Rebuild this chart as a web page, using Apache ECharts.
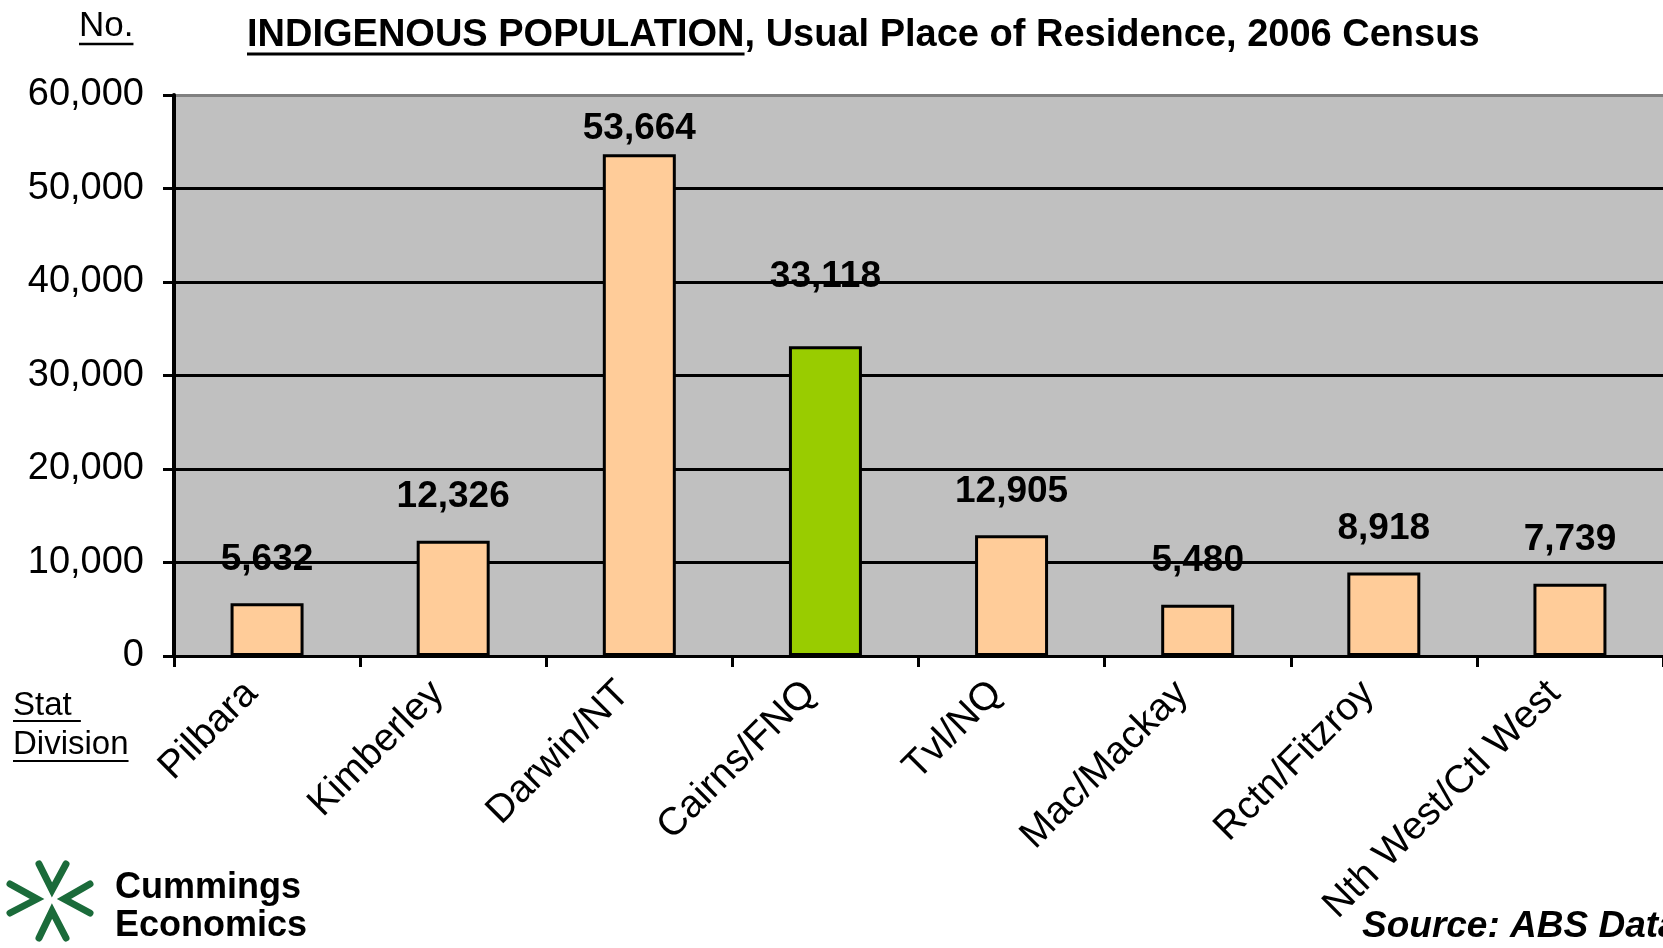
<!DOCTYPE html>
<html>
<head>
<meta charset="utf-8">
<script src="https://cdn.jsdelivr.net/npm/echarts@6/dist/echarts.min.js"></script>
<style>
  html, body { margin: 0; padding: 0; background: #fff; }
  #chart { width: 1663px; height: 948px; }
</style>
</head>
<body>
<div id="chart"></div>
<script>
// data
const categories = ['Pilbara', 'Kimberley', 'Darwin/NT', 'Cairns/FNQ', 'Tvl/NQ', 'Mac/Mackay', 'Rctn/Fitzroy', 'Nth West/Ctl West']
const population = [5632, 12326, 53664, 33118, 12905, 5480, 8918, 7739]
const highlighted = 'Cairns/FNQ'
const yMin = 0
const yMax = 60000
const yStep = 10000

const FONT = '"Liberation Sans", Arial, sans-serif'
const BAR = '#FFCC99'
const BAR_HI = '#99CC00'
const GREEN = '#1B6B3A'

// labels that sit further / closer to the bar than the rest
const labelGap = { 'Darwin/NT': 7, 'Cairns/FNQ': 51 }

const ctx = document.createElement('canvas').getContext('2d')
const textWidth = (t, font) => { ctx.font = font; return ctx.measureText(t).width }

const titleFont = 'bold 38px ' + FONT
const noFont = '35px ' + FONT
const statFont = '33px ' + FONT
const logoFont = 'bold 36px ' + FONT

const underline = (x, y, w, lw) => ({
  type: 'line', shape: { x1: x, y1: y, x2: x + w, y2: y },
  style: { stroke: '#000', lineWidth: lw || 2 }
})
const text = (t, x, y, font) => ({
  type: 'text', x, y,
  style: { text: t, font, fill: '#000', verticalAlign: 'middle' }
})
const chevron = pts => ({
  type: 'polyline', shape: { points: pts },
  style: { stroke: GREEN, lineWidth: 7, lineCap: 'round', lineJoin: 'miter', fill: null }
})

const chart = echarts.init(document.getElementById('chart'), null, { renderer: 'canvas' })

chart.setOption({
  animation: false,
  grid: {
    left: 174, top: 95, width: 1499, height: 561,
    show: true, backgroundColor: '#C0C0C0', borderWidth: 0,
    containLabel: false
  },
  xAxis: {
    type: 'category',
    data: categories,
    axisLine: { lineStyle: { color: '#000', width: 3 } },
    axisTick: { show: true, inside: false, length: 11, interval: 0, lineStyle: { color: '#000', width: 3 } },
    axisLabel: {
      interval: 0, rotate: 45, margin: 16, padding: [0, 22, 0, 0],
      fontFamily: FONT, fontSize: 39, color: '#000'
    },
    splitLine: { show: false }
  },
  yAxis: {
    type: 'value',
    min: yMin, max: yMax, interval: yStep,
    axisLine: { show: true, lineStyle: { color: '#000', width: 4 } },
    axisTick: { show: true, inside: false, length: 11, lineStyle: { color: '#000', width: 3 } },
    axisLabel: {
      margin: 30, fontFamily: FONT, fontSize: 38, color: '#000',
      formatter: v => v.toLocaleString('en-US')
    },
    splitLine: {
      show: true,
      lineStyle: { color: ['#000', '#000', '#000', '#000', '#000', '#000', '#808080'], width: 3 }
    }
  },
  series: [{
    type: 'bar',
    barWidth: 73,
    data: population.map((v, i) => ({
      value: v,
      itemStyle: { color: categories[i] === highlighted ? BAR_HI : BAR },
      label: { distance: labelGap[categories[i]] ?? 25 }
    })),
    itemStyle: { borderColor: '#000', borderWidth: 3 },
    label: {
      show: true, position: 'top',
      fontFamily: FONT, fontSize: 37, fontWeight: 'bold', color: '#000',
      formatter: p => p.value.toLocaleString('en-US')
    }
  }],
  graphic: [
    text('No.', 79, 26, noFont),
    underline(79, 44, textWidth('No.', noFont), 2.5),
    text('INDIGENOUS POPULATION, Usual Place of Residence, 2006 Census', 247, 36, titleFont),
    underline(247, 54, textWidth('INDIGENOUS POPULATION', titleFont), 3),
    text('Stat', 13, 706, statFont),
    underline(13, 721, textWidth('Stat ', statFont)),
    text('Division', 13, 745, statFont),
    underline(13, 761, textWidth('Division', statFont)),
    // logo
    chevron([[39, 864], [52, 890], [66, 864]]),
    chevron([[39, 938], [52, 911], [66, 938]]),
    chevron([[10, 884], [37, 899], [10, 913]]),
    chevron([[90, 884], [64, 899], [90, 913]]),
    text('Cummings', 115, 888, logoFont),
    text('Economics', 115, 926, logoFont),
    text('Source: ABS Data', 1362, 927, 'italic bold 37px ' + FONT)
  ]
})
</script>
</body>
</html>
